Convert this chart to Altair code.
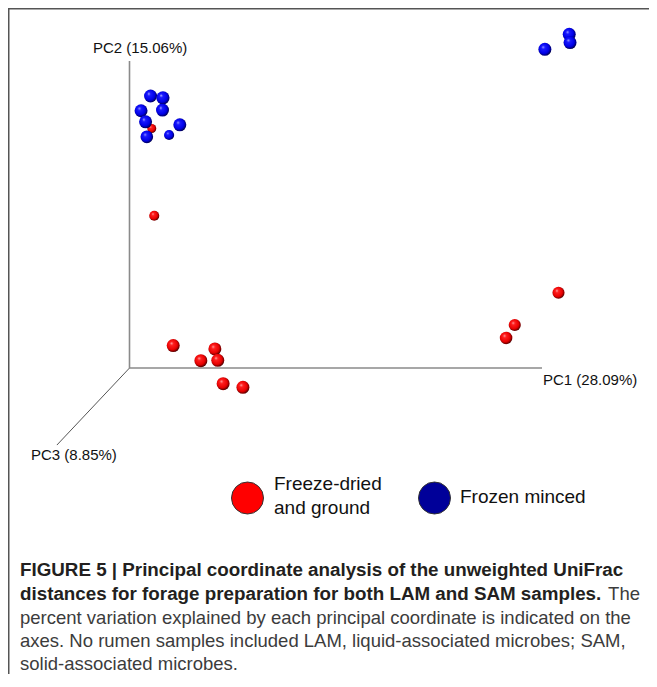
import altair as alt
import pandas as pd

# ---- data (projected PCoA coordinates; PC1 axis drawn 0->1, PC2 axis drawn 0->1) ----
red_pc1 = [0.054, 0.060, 0.106, 0.207, 0.173, 0.214, 0.227, 0.275, 1.040, 0.934, 0.913]
red_pc2 = [0.780, 0.496, 0.073, 0.062, 0.024, 0.025, -0.051, -0.063, 0.245, 0.140, 0.098]
red_depth = [0.0, 0.25, 1.0, 1.0, 1.0, 1.0, 1.0, 1.0, 0.75, 0.75, 0.875]

blue_pc1 = [1.066, 1.068, 1.007, 0.051, 0.081, 0.080, 0.028, 0.039, 0.122, 0.096, 0.042]
blue_pc2 = [1.087, 1.060, 1.038, 0.886, 0.880, 0.840, 0.838, 0.802, 0.792, 0.759, 0.753]
blue_depth = [1.0, 1.0, 1.0, 1.0, 1.1, 1.0, 1.0, 1.0, 1.0, 0.25, 0.9]

axis_names = ["PC1 (28.09%)", "PC2 (15.06%)", "PC3 (8.85%)"]
pc3_dir = (-0.176, -0.251)

legend_labels = ["Freeze-dried", "and ground", "Frozen minced"]

caption_bold = ["FIGURE 5 | Principal coordinate analysis of the unweighted UniFrac",
                "distances for forage preparation for both LAM and SAM samples."]
caption_reg = ["The",
               "percent variation explained by each principal coordinate is indicated on the",
               "axes. No rumen samples included LAM, liquid-associated microbes; SAM,",
               "solid-associated microbes."]

# ---- layout ----
W, H = 641, 666
OX, OY = 121.5, 360.0      # origin of the axes in chart pixels
SX, SY = 412.5, 307.0      # pixels per data unit

xs = alt.Scale(domain=[(0 - OX) / SX, (W - OX) / SX], nice=False, zero=False)
ys = alt.Scale(domain=[(OY - H) / SY, OY / SY], nice=False, zero=False)
ss = alt.Scale(domain=[0, 1], range=[81, 169])

FONT = "Liberation Sans"
CAP_B = 18.8
CAP_R = 18.5

red_df = pd.DataFrame({"pc1": red_pc1, "pc2": red_pc2, "depth": red_depth})
blue_df = pd.DataFrame({"pc1": blue_pc1, "pc2": blue_pc2, "depth": blue_depth})

axes_df = pd.DataFrame({"x": [0, 0], "y": [0, 0], "x2": [1, 0], "y2": [0, 1]})
pc3_df = pd.DataFrame({"x": [0], "y": [0], "x2": [pc3_dir[0]], "y2": [pc3_dir[1]]})


def grad(c0, c1, c2, c3):
    return {"gradient": "radial", "x1": 0.36, "y1": 0.32, "r1": 0.0,
            "x2": 0.45, "y2": 0.45, "r2": 0.6,
            "stops": [{"offset": 0.0, "color": c0}, {"offset": 0.22, "color": c1},
                      {"offset": 0.68, "color": c2}, {"offset": 1.0, "color": c3}]}


enc_pts = dict(x=alt.X("pc1:Q", scale=xs, axis=None),
               y=alt.Y("pc2:Q", scale=ys, axis=None),
               size=alt.Size("depth:Q", scale=ss, legend=None))

red = alt.Chart(red_df).mark_circle(
    fill=grad("#ffb8b8", "#ff2020", "#e80000", "#2a0000"), opacity=1, strokeWidth=0
).encode(**enc_pts)
blue = alt.Chart(blue_df).mark_circle(
    fill=grad("#b0b0ff", "#1a1aff", "#0000e6", "#00002a"), opacity=1, strokeWidth=0
).encode(**enc_pts)

axes = alt.Chart(axes_df).mark_rule(color="#8a8a8a", strokeWidth=1.6).encode(
    x=alt.X("x:Q", scale=xs, axis=None), y=alt.Y("y:Q", scale=ys, axis=None),
    x2="x2:Q", y2="y2:Q")
pc3 = alt.Chart(pc3_df).mark_rule(color="#555555", strokeWidth=1).encode(
    x=alt.X("x:Q", scale=xs, axis=None), y=alt.Y("y:Q", scale=ys, axis=None),
    x2="x2:Q", y2="y2:Q")

base = alt.Chart(pd.DataFrame({"a": [0]}))


def label(txt, x, y, size=15, weight="normal", color="#111111", align="left"):
    return base.mark_text(text=txt, font=FONT, fontSize=size, fontWeight=weight,
                          color=color, align=align, baseline="middle").encode(
        x=alt.value(x), y=alt.value(y))


frame_top = base.mark_rule(color="#555555", strokeWidth=1.5).encode(
    x=alt.value(0), x2=alt.value(W), y=alt.value(0.75))
frame_left = base.mark_rule(color="#555555", strokeWidth=1.5).encode(
    x=alt.value(0.75), y=alt.value(0), y2=alt.value(H))
# white cover along the bottom edge of the canvas
bottom_cover = base.mark_rule(color="white", strokeWidth=4).encode(
    x=alt.value(2), x2=alt.value(W), y=alt.value(H - 1))

lab_pc1 = label(axis_names[0], 535, 372)
lab_pc2 = label(axis_names[1], 85, 40)
lab_pc3 = label(axis_names[2], 23, 447)

leg_red = base.mark_point(shape="circle", filled=True, size=1024, fill="#ff0000",
                          stroke="#333333", strokeWidth=1, opacity=1).encode(
    x=alt.value(239.5), y=alt.value(490))
leg_blue = base.mark_point(shape="circle", filled=True, size=1024, fill="#000099",
                           stroke="#333333", strokeWidth=1, opacity=1).encode(
    x=alt.value(426.5), y=alt.value(490))
leg_t1 = label(legend_labels[0], 266, 476, size=19)
leg_t2 = label(legend_labels[1], 266, 500, size=19)
leg_t3 = label(legend_labels[2], 452, 489, size=19)

cap1 = label(caption_bold[0], 12, 562, size=CAP_B, weight="bold", color="#231f20")
cap2 = label(caption_bold[1], 12, 586, size=CAP_B, weight="bold", color="#231f20")
cap2b = label(caption_reg[0], 632, 586, size=CAP_R, color="#3c3c3c", align="right")
cap3 = label(caption_reg[1], 12, 610, size=CAP_R, color="#3c3c3c")
cap4 = label(caption_reg[2], 12, 633, size=CAP_R, color="#3c3c3c")
cap5 = label(caption_reg[3], 12, 656, size=CAP_R, color="#3c3c3c")

chart = alt.layer(
    frame_top, frame_left, axes, pc3, red, blue,
    lab_pc1, lab_pc2, lab_pc3,
    leg_red, leg_blue, leg_t1, leg_t2, leg_t3,
    cap1, cap2, cap2b, cap3, cap4, cap5, bottom_cover,
).properties(width=W, height=H, padding=0, autosize=alt.AutoSizeParams(type="none")
).configure(background="white").configure_view(strokeWidth=0, stroke="transparent")

chart.save("out.html", embed_options={"renderer": "svg", "actions": False})
